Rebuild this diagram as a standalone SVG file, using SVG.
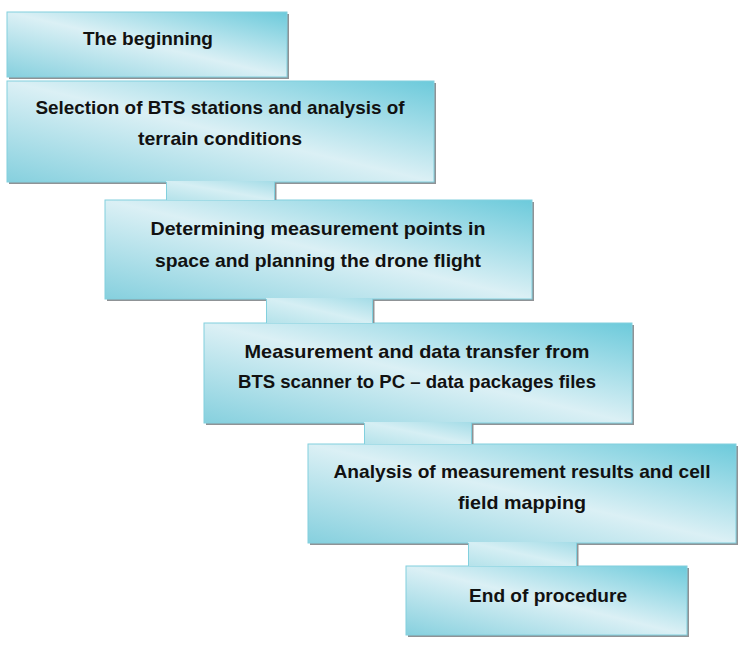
<svg xmlns="http://www.w3.org/2000/svg" width="744" height="646" viewBox="0 0 744 646">
<defs>
<linearGradient id="g" x1="0" y1="1" x2="1" y2="0">
<stop offset="0" stop-color="#86d0de"/>
<stop offset="0.5" stop-color="#dbf0f5"/>
<stop offset="1" stop-color="#6ccadb"/>
</linearGradient>
<linearGradient id="gc" x1="0" y1="1" x2="1" y2="0">
<stop offset="0" stop-color="#b4e2ea"/>
<stop offset="0.5" stop-color="#d6eff4"/>
<stop offset="1" stop-color="#a4dce7"/>
</linearGradient>
<style>
.sh{fill:#8f9396}
.bx{fill:url(#g);stroke:#82d0de;stroke-width:1}
.cf{fill:url(#gc);stroke:none}
.cs{stroke:#82d0de;stroke-width:1;fill:none}
.t{font-family:"Liberation Sans",Arial,sans-serif;font-weight:bold;font-size:19px;fill:#111;text-anchor:middle}
</style>
</defs>
<rect width="744" height="646" fill="#fff"/>
<g id="n1">
<rect class="sh" x="9" y="14" width="280" height="65"/>
<rect class="bx" x="7" y="12" width="280" height="65"/>
<text class="t" x="148" y="45" textLength="130" lengthAdjust="spacingAndGlyphs">The beginning</text>
</g>
<g id="n2">
<rect class="sh" x="9" y="83" width="427" height="101"/>
<rect class="bx" x="7" y="81" width="427" height="101"/>
<text class="t" x="220" y="114" textLength="369" lengthAdjust="spacingAndGlyphs">Selection of BTS stations and analysis of</text>
<text class="t" x="220" y="145" textLength="164" lengthAdjust="spacingAndGlyphs">terrain conditions</text>
</g>
<g id="n3">
<rect class="sh" x="107" y="202" width="427" height="99"/>
<rect class="bx" x="105" y="200" width="427" height="99"/>
<text class="t" x="318" y="235" textLength="335" lengthAdjust="spacingAndGlyphs">Determining measurement points in</text>
<text class="t" x="318" y="267" textLength="326" lengthAdjust="spacingAndGlyphs">space and planning the drone flight</text>
</g>
<g id="n4">
<rect class="sh" x="206" y="325" width="428" height="100"/>
<rect class="bx" x="204" y="323" width="428" height="100"/>
<text class="t" x="417" y="358" textLength="345" lengthAdjust="spacingAndGlyphs">Measurement and data transfer from</text>
<text class="t" x="417" y="388" textLength="358" lengthAdjust="spacingAndGlyphs">BTS scanner to PC – data packages files</text>
</g>
<g id="n5">
<rect class="sh" x="310" y="446" width="428" height="99"/>
<rect class="bx" x="308" y="444" width="428" height="99"/>
<text class="t" x="522" y="478" textLength="377" lengthAdjust="spacingAndGlyphs">Analysis of measurement results and cell</text>
<text class="t" x="522" y="509" textLength="128" lengthAdjust="spacingAndGlyphs">field mapping</text>
</g>
<g id="n6">
<rect class="sh" x="408" y="568" width="281" height="69"/>
<rect class="bx" x="406" y="566" width="281" height="69"/>
<text class="t" x="548" y="602" textLength="158" lengthAdjust="spacingAndGlyphs">End of procedure</text>
</g>
<g id="connectors">
<rect class="sh" x="274.5" y="183" width="2" height="17"/>
<rect class="cf" x="166" y="181" width="108" height="19"/>
<path class="cs" d="M166.5 182V200M274.5 182V200"/>
<rect class="sh" x="372.5" y="300" width="2" height="23"/>
<rect class="cf" x="266" y="298" width="106" height="25"/>
<path class="cs" d="M266.5 299V323M372.5 299V323"/>
<rect class="sh" x="471.5" y="424" width="2" height="20"/>
<rect class="cf" x="364" y="422" width="107" height="22"/>
<path class="cs" d="M364.5 423V444M471.5 423V444"/>
<rect class="sh" x="576.5" y="544" width="2" height="22"/>
<rect class="cf" x="468" y="542" width="108" height="24"/>
<path class="cs" d="M468.5 543V566M576.5 543V566"/>
</g>
</svg>
